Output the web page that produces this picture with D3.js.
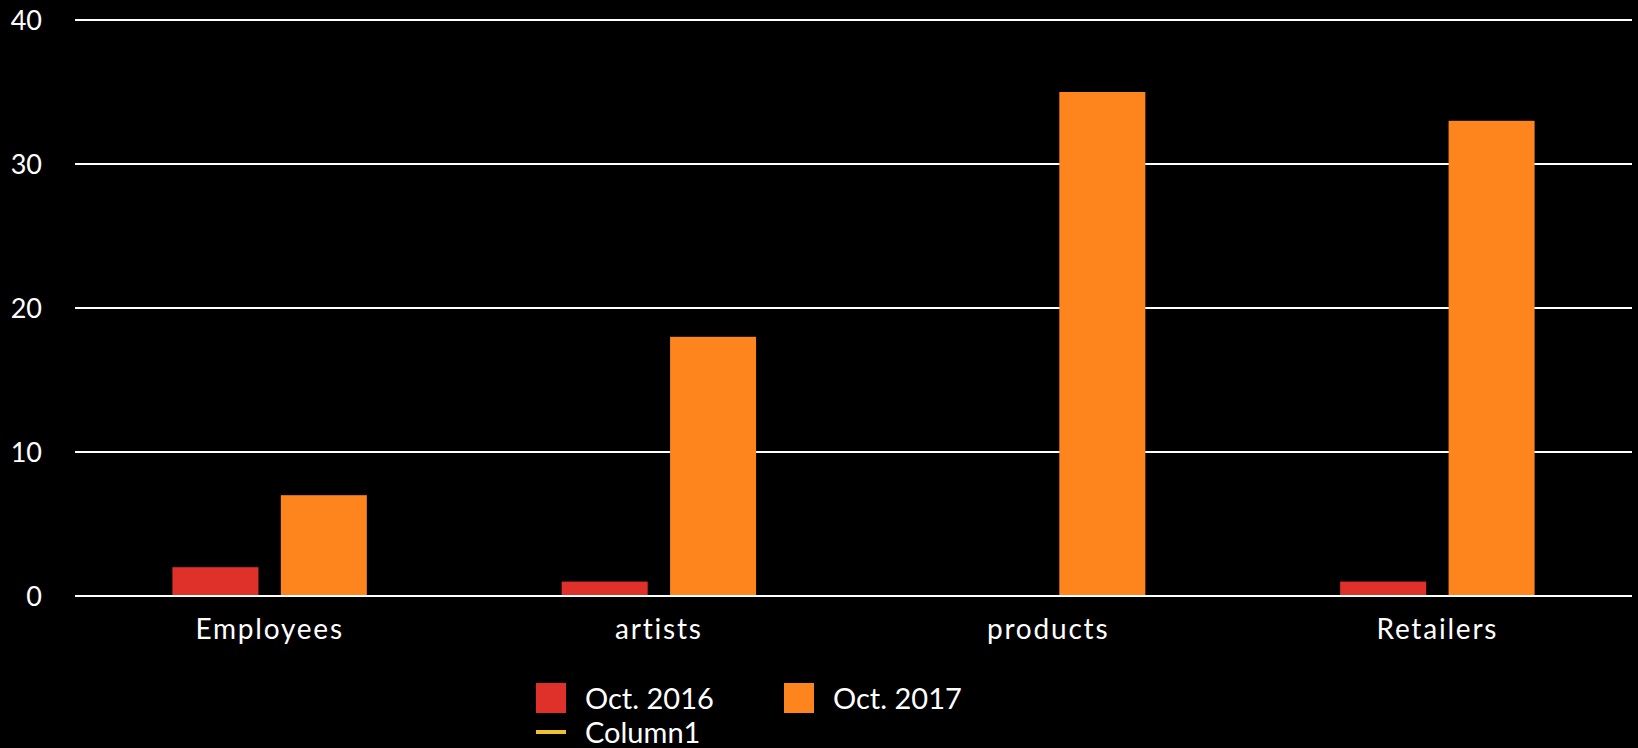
<!DOCTYPE html>
<html><head><meta charset="utf-8">
<script src="https://cdn.jsdelivr.net/npm/d3@7"></script>
<style>html,body{margin:0;padding:0;background:#000;overflow:hidden;}svg{display:block;}</style>
</head><body>
<svg id="c" width="1638" height="748"></svg>
<script>
const categories = ["Employees", "artists", "products", "Retailers"];
const series2016 = [2, 1, 0, 1];
const series2017 = [7, 18, 35, 33];
const column1 = [null, null, null, null];
const yTicks = [0, 10, 20, 30, 40];
const seriesNames = ["Oct. 2016", "Oct. 2017", "Column1"];
const colors = ["#e0302a", "#fe841d", "#eec12f"];

(function () {
const svg = d3.select("#c");
const font = "'Lato', 'DejaVu Sans', sans-serif";
const pLeft = 75, pRight = 1632, pTop = 20, pBottom = 596;

const x = d3.scaleBand().domain(categories).range([pLeft, pRight]).paddingInner(0).paddingOuter(0);
const y = d3.scaleLinear().domain([0, 40]).range([pBottom, pTop]);

// grid
svg.append("g").selectAll("line").data(yTicks).join("line")
  .attr("x1", pLeft).attr("x2", pRight)
  .attr("y1", d => y(d)).attr("y2", d => y(d))
  .attr("stroke", "#fff").attr("stroke-width", 2);

// y labels
svg.append("g").selectAll("text").data(yTicks).join("text")
  .attr("x", 42).attr("y", d => y(d) + 10)
  .attr("text-anchor", "end").attr("fill", "#fff")
  .attr("font-family", font).attr("font-size", 27).text(d => d);

const bw = x.bandwidth();
const barW = bw * 0.221;
const gap = bw * 0.0575;
const off0 = (bw - 2 * barW - gap) / 2;

const g = svg.append("g");
g.selectAll("rect.s1").data(categories).join("rect").attr("class", "s1")
  .attr("x", (d) => x(d) + off0)
  .attr("width", barW)
  .attr("y", (d, i) => y(series2016[i]))
  .attr("height", (d, i) => y(0) - y(series2016[i]))
  .attr("fill", colors[0]);
g.selectAll("rect.s2").data(categories).join("rect").attr("class", "s2")
  .attr("x", (d) => x(d) + off0 + barW + gap)
  .attr("width", barW)
  .attr("y", (d, i) => y(series2017[i]))
  .attr("height", (d, i) => y(0) - y(series2017[i]))
  .attr("fill", colors[1]);

// baseline over bars
svg.append("line").attr("x1", pLeft).attr("x2", pRight).attr("y1", y(0)).attr("y2", y(0))
  .attr("stroke", "#fff").attr("stroke-width", 2);

// x labels
svg.append("g").selectAll("text").data(categories).join("text")
  .attr("x", d => x(d) + bw / 2).attr("y", 639)
  .attr("text-anchor", "middle").attr("fill", "#fff")
  .attr("letter-spacing", 1.8)
  .attr("font-family", font).attr("font-size", 28).text(d => d);

// legend
const leg = svg.append("g");
const legItems = [
  {name: seriesNames[0], color: colors[0], type: "rect", x: 536, y: 698},
  {name: seriesNames[1], color: colors[1], type: "rect", x: 784, y: 698},
  {name: seriesNames[2], color: colors[2], type: "line", x: 536, y: 732}
];
legItems.forEach(it => {
  if (it.type === "rect") {
    leg.append("rect").attr("x", it.x).attr("y", it.y - 15).attr("width", 30).attr("height", 30).attr("fill", it.color);
  } else {
    leg.append("line").attr("x1", it.x).attr("x2", it.x + 30).attr("y1", it.y).attr("y2", it.y)
      .attr("stroke", it.color).attr("stroke-width", 4);
  }
  leg.append("text").attr("x", it.x + 49).attr("y", it.y + 11)
    .attr("fill", "#fff").attr("font-family", font).attr("font-size", 29).text(it.name);
});
})();
</script>
</body></html>
